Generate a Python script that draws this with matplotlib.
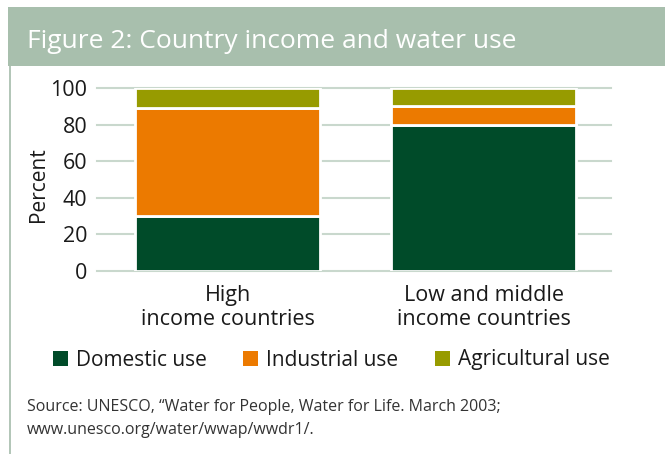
import matplotlib
matplotlib.use("Agg")
import matplotlib.pyplot as plt
from matplotlib.patches import Rectangle, Patch

plt.rcParams['font.family'] = ['Open Sans', 'DejaVu Sans']

categories = ["High\nincome countries", "Low and middle\nincome countries"]
series_names = ["Domestic use", "Industrial use", "Agricultural use"]
domestic = [30, 80]
industrial = [59, 10]
agricultural = [11, 10]
yticks = [0, 20, 40, 60, 80, 100]

colors = ["#004b29", "#ec7a00", "#979b00"]
W, H = 665, 454

def fx(px):
    return px / W

def fy(py):
    return 1 - py / H

fig = plt.figure(figsize=(W / 100, H / 100), dpi=100)
fig.patch.set_facecolor("white")

# header band and left border
fig.patches.append(Rectangle((fx(8), fy(66)), 1 - fx(8), fy(7) - fy(66),
                             transform=fig.transFigure, facecolor="#a8bfad",
                             edgecolor="none", zorder=0))
fig.patches.append(Rectangle((fx(8.5), 0), fx(2.5), fy(66),
                             transform=fig.transFigure, facecolor="#b3c6b8",
                             edgecolor="none", zorder=0))
fig.text(fx(27), fy(47.5), "Figure 2: Country income and water use",
         color="white", fontsize=19, va="baseline", ha="left")

ax = fig.add_axes([fx(97), fy(271), fx(611) - fx(97), fy(88) - fy(271)])
x = list(range(len(categories)))
bw = 0.7227
bottom2 = [d + i for d, i in zip(domestic, industrial)]
ax.bar(x, domestic, width=bw, color=colors[0], edgecolor="white", linewidth=2, zorder=3)
ax.bar(x, industrial, width=bw, bottom=domestic, color=colors[1], edgecolor="white", linewidth=2, zorder=3)
ax.bar(x, agricultural, width=bw, bottom=bottom2, color=colors[2], edgecolor="white", linewidth=2, zorder=3)

ax.set_xlim(-0.5098, 1.498)
ax.set_ylim(0, 100)
for yt in yticks:
    ax.axhline(yt, color="#c9d8cd", linewidth=1.5, zorder=1, clip_on=False)
for s in ax.spines.values():
    s.set_visible(False)
ax.set_yticks(yticks)
ax.set_yticklabels([str(v) for v in yticks], fontsize=15.5, color="#1a1a1a")
ax.tick_params(axis="y", length=0, pad=7)
ax.set_xticks(x)
ax.set_xticklabels(categories, fontsize=15.5, color="#1a1a1a", linespacing=1.2)
ax.tick_params(axis="x", length=0, pad=10)
ax.set_ylabel("Percent", fontsize=15, color="#1a1a1a")
ax.yaxis.set_label_coords(-0.093, 0.47)

handles = [Patch(facecolor=c, edgecolor="none") for c in colors]
fig.legend(handles, series_names, loc="center left", bbox_to_anchor=(fx(53), fy(360)),
           ncol=3, frameon=False, fontsize=15, handlelength=0.72, handleheight=0.72,
           handletextpad=0.38, columnspacing=1.75, borderpad=0, borderaxespad=0,
           labelcolor="#1a1a1a")

fig.text(fx(27), fy(411), "Source: UNESCO, \u201cWater for People, Water for Life. March 2003;",
         fontsize=11.5, color="#333333", va="baseline", ha="left")
fig.text(fx(27), fy(434), "www.unesco.org/water/wwap/wwdr1/.",
         fontsize=11.5, color="#333333", va="baseline", ha="left")

fig.savefig("out.png", dpi=100)
